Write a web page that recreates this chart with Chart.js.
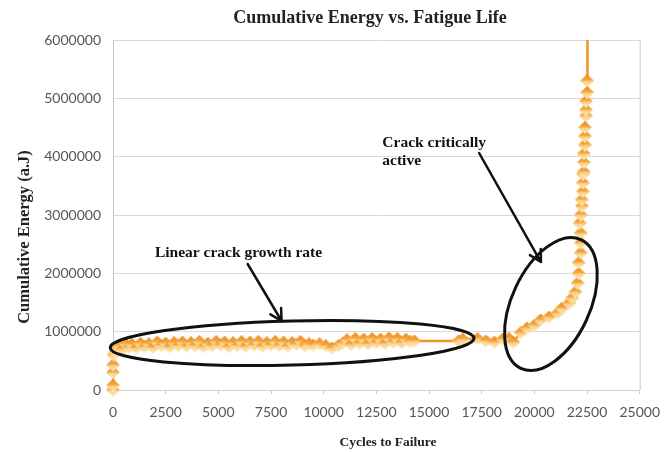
<!DOCTYPE html>
<html>
<head>
<meta charset="utf-8">
<script src="https://cdn.jsdelivr.net/npm/chart.js@4"></script>
<style>
  html,body{margin:0;padding:0;background:#fff;}
  #c{display:block;}
</style>
</head>
<body>
<canvas id="c" width="670" height="452"></canvas>
<script>
// data
const cycles = [
  0, 0, 0, 0, 30, 100, 200, 300, 450, 600, 750, 900, 1100, 1300, 1500, 1700, 1900,
  2100, 2300, 2500, 2700, 2900, 3100, 3300, 3500, 3700, 3900, 4100, 4300, 4500, 4700,
  4900, 5100, 5300, 5500, 5700, 5900, 6100, 6300, 6500, 6700, 6900, 7100, 7300, 7500,
  7700, 7900, 8100, 8300, 8500, 8700, 8900, 9100, 9300, 9500, 9800, 10100, 10400, 10700,
  10900, 11100, 11300, 11500, 11700, 11900, 12100, 12300, 12500, 12700, 12900, 13100,
  13300, 13500, 13700, 13900, 14100, 14300, 16400, 16600, 17300, 17700, 18100, 18500,
  18800, 19000, 19350, 19650, 20000, 20300, 20700, 21100, 21300, 21650, 21800, 21950,
  22050, 22100, 22100, 22200, 22200, 22200, 22150, 22200, 22250, 22250, 22300, 22300,
  22300, 22350, 22350, 22350, 22400, 22400, 22400, 22450, 22450, 22450, 22500, 22500, 22540
];
const energy = [
  0, 80000, 300000, 430000, 600000, 650000, 720000, 760000, 700000, 790000, 730000, 780000,
  720000, 800000, 740000, 790000, 730000, 820000, 760000, 800000, 740000, 810000, 760000,
  820000, 750000, 810000, 760000, 830000, 740000, 800000, 760000, 830000, 770000, 820000,
  740000, 810000, 760000, 830000, 750000, 820000, 770000, 830000, 750000, 810000, 770000,
  830000, 760000, 820000, 750000, 810000, 780000, 830000, 760000, 790000, 770000, 790000,
  760000, 720000, 760000, 800000, 860000, 780000, 880000, 800000, 870000, 790000, 880000,
  810000, 870000, 800000, 890000, 820000, 880000, 810000, 870000, 830000, 840000, 840000,
  870000, 880000, 840000, 820000, 870000, 880000, 820000, 980000, 1060000, 1110000, 1200000,
  1250000, 1320000, 1400000, 1490000, 1580000, 1680000, 1830000, 2000000, 2180000, 2350000,
  2520000, 2690000, 2860000, 3000000, 3150000, 3260000, 3400000, 3550000, 3700000, 3740000,
  3900000, 4050000, 4200000, 4350000, 4500000, 4700000, 4800000, 4950000, 5100000, 5300000, 6000000
];
const xTicks = [0, 2500, 5000, 7500, 10000, 12500, 15000, 17500, 20000, 22500, 25000];
const yTicks = [0, 1000000, 2000000, 3000000, 4000000, 5000000, 6000000];

const titleText = 'Cumulative Energy vs. Fatigue Life';
const xTitle = 'Cycles to Failure';
const yTitle = 'Cumulative Energy (a.J)';

const points = cycles.map((x,i)=>({x, y: energy[i]}));
const lastPoint = points.length - 1;

// diamond marker, orange top / pale bottom like the excel 3d style
const marker = document.createElement('canvas');
marker.width = 14; marker.height = 13;
(()=>{
  const m = marker.getContext('2d');
  const g = m.createLinearGradient(0, 0, 0, 13);
  g.addColorStop(0, '#EE861C');
  g.addColorStop(0.45, '#F5A93E');
  g.addColorStop(0.55, '#FAD089');
  g.addColorStop(1, '#FDEBC0');
  m.beginPath(); m.moveTo(7,0); m.lineTo(14,6.5); m.lineTo(7,13); m.lineTo(0,6.5); m.closePath();
  m.fillStyle = g; m.fill();
})();

// annotations: anchors in data units, sizes in px
const ellipses = [
  {x: 8500, y: 806000, rx: 182, ry: 22, rot: -1.5},
  {x: 20786, y: 1474000, rx: 71, ry: 39, rot: -65}
];
const arrows = [
  {x0: 6392, y0: 2160000, x1: 8002, y1: 1183000},
  {x0: 17377, y0: 4063000, x1: 20312, y1: 2194000}
];
const notes = [
  {x: 1989, y: 2349000, text: 'Linear crack growth rate'},
  {x: 12784, y: 4234000, text: 'Crack critically'},
  {x: 12784, y: 3926000, text: 'active'}
];

const serif = '"Liberation Serif", "Times New Roman", serif';

const extras = {
  id: 'extras',
  beforeDatasetsDraw(chart){
    const {ctx, chartArea:a} = chart;
    ctx.save();
    ctx.strokeStyle = '#c8c8c8'; ctx.lineWidth = 1;
    ctx.beginPath(); ctx.moveTo(a.right+0.5, a.top); ctx.lineTo(a.right+0.5, a.bottom); ctx.stroke();
    ctx.restore();
  },
  afterDatasetsDraw(chart){
    const {ctx, scales:{x, y}} = chart;
    ctx.save();
    ctx.strokeStyle = '#111'; ctx.fillStyle = '#111';
    ctx.lineWidth = 3;
    ellipses.forEach(e=>{
      ctx.beginPath();
      ctx.ellipse(x.getPixelForValue(e.x), y.getPixelForValue(e.y), e.rx, e.ry, e.rot*Math.PI/180, 0, Math.PI*2);
      ctx.stroke();
    });
    ctx.lineWidth = 2.5; ctx.lineCap = 'round';
    arrows.forEach(r=>{
      const ax = x.getPixelForValue(r.x0), ay = y.getPixelForValue(r.y0);
      const bx = x.getPixelForValue(r.x1), by = y.getPixelForValue(r.y1);
      const ang = Math.atan2(by-ay, bx-ax);
      ctx.beginPath(); ctx.moveTo(ax, ay); ctx.lineTo(bx, by);
      [-0.5, 0.5].forEach(d=>{
        ctx.moveTo(bx, by);
        ctx.lineTo(bx - 13*Math.cos(ang+d), by - 13*Math.sin(ang+d));
      });
      ctx.stroke();
    });
    ctx.font = 'bold 15.5px ' + serif;
    ctx.textBaseline = 'middle'; ctx.textAlign = 'left';
    notes.forEach(n=> ctx.fillText(n.text, x.getPixelForValue(n.x), y.getPixelForValue(n.y)));

    // titles
    ctx.fillStyle = '#222';
    ctx.textAlign = 'center';
    ctx.font = 'bold 18px ' + serif;
    ctx.fillText(titleText, 370, 18);
    ctx.font = 'bold 13.5px ' + serif;
    ctx.fillText(xTitle, 388, 443);
    ctx.translate(25, 237); ctx.rotate(-Math.PI/2);
    ctx.font = 'bold 16.5px ' + serif;
    ctx.fillText(yTitle, 0, 0);
    ctx.restore();
  }
};

new Chart(document.getElementById('c'), {
  type: 'line',
  data: {
    datasets: [{
      data: points,
      borderColor: '#F29424',
      borderWidth: 2.5,
      pointStyle: points.map((p,i)=> i === lastPoint ? false : marker),
      pointRadius: 7,
      tension: 0,
      fill: false,
      clip: false
    }]
  },
  options: {
    responsive: false,
    animation: false,
    devicePixelRatio: 1,
    layout: {padding: {top: 40, right: 27, left: 0, bottom: 0}},
    plugins: {legend: {display: false}, tooltip: {enabled: false}, title: {display: false}},
    scales: {
      x: {
        type: 'linear', min: 0, max: 25000,
        afterBuildTicks: s => { s.ticks = xTicks.map(v=>({value: v})); },
        afterFit: s => { s.height = 62; },
        grid: {drawOnChartArea: false, drawTicks: true, tickLength: 4, color: '#c8c8c8'},
        border: {color: '#d0d0d0'},
        ticks: {padding: 10, color: '#555', font: {family: 'Lato', size: 14}, maxRotation: 0, callback: v => String(v)}
      },
      y: {
        type: 'linear', min: 0, max: 6000000,
        afterBuildTicks: s => { s.ticks = yTicks.map(v=>({value: v})); },
        afterFit: s => { s.width = 113; },
        grid: {color: '#d9d9d9', drawTicks: false},
        border: {color: '#c8c8c8'},
        ticks: {padding: 12, color: '#555', font: {family: 'Lato', size: 14}, callback: v => String(v)}
      }
    }
  },
  plugins: [extras]
});
</script>
</body>
</html>
